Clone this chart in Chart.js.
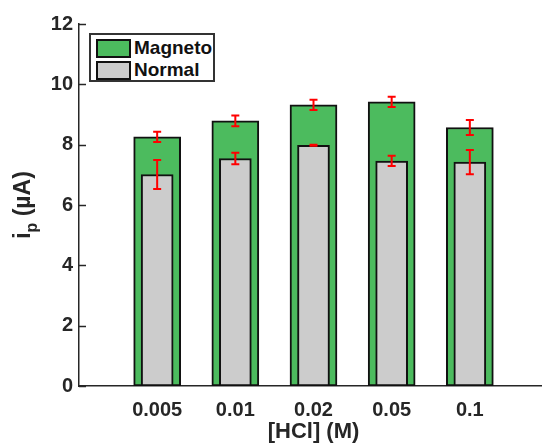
<!DOCTYPE html>
<html>
<head>
<meta charset="utf-8">
<script src="https://cdn.jsdelivr.net/npm/chart.js@4"></script>
<style>
    html, body { margin: 0; padding: 0; background: #fff; overflow: hidden; width: 542px; height: 443px; }
    #wrap { position: relative; width: 548px; height: 443px; }
    #legend {
        position: absolute; left: 89px; top: 33px; width: 122px; height: 45px;
        border: 2px solid #333; background: #fff;
        font: bold 19px "Liberation Sans", Arial, sans-serif; color: #111;
    }
    .item { position: absolute; left: 5px; height: 20px; line-height: 20px; }
    .sw { position: absolute; left: 0; top: 1px; width: 31px; height: 15px; border: 2px solid #111; }
    .lbl { position: absolute; left: 38px; top: 0; white-space: nowrap; }
</style>
</head>
<body>
<div id="wrap">
    <canvas id="chart" width="548" height="443"></canvas>
    <div id="legend"></div>
</div>
<script>
const categories = ['0.005', '0.01', '0.02', '0.05', '0.1'];
const magneto = [8.26, 8.79, 9.32, 9.42, 8.57];
const magnetoErr = [0.17, 0.18, 0.17, 0.17, 0.25];
const normal = [7.01, 7.54, 7.98, 7.46, 7.42];
const normalErr = [0.48, 0.19, 0.02, 0.17, 0.40];
const yTicks = [0, 2, 4, 6, 8, 10, 12];

const GREEN = '#4cbb5e';
const GREY = '#cccccc';
const FONT = '"Liberation Sans", Arial, sans-serif';

const toPoints = vals => vals.map((v, i) => ({ x: i + 1, y: v }));

// error bars, inward y ticks and axis titles
const extras = {
    id: 'extras',
    afterDatasetsDraw(chart) {
        const ctx = chart.ctx;
        const xs = chart.scales.x;
        const ys = chart.scales.y;
        const area = chart.chartArea;

        ctx.save();
        ctx.strokeStyle = '#262626';
        ctx.lineWidth = 1.5;
        yTicks.forEach(t => {
            const py = Math.round(ys.getPixelForValue(t)) + 0.5;
            ctx.beginPath();
            ctx.moveTo(area.left, py);
            ctx.lineTo(area.left + 7, py);
            ctx.stroke();
        });

        ctx.strokeStyle = '#ff0000';
        ctx.lineWidth = 2;
        const bars = [[magneto, magnetoErr], [normal, normalErr]];
        bars.forEach(([vals, errs]) => {
            vals.forEach((v, i) => {
                const px = xs.getPixelForValue(i + 1);
                const top = ys.getPixelForValue(v + errs[i]);
                const bot = ys.getPixelForValue(v - errs[i]);
                ctx.beginPath();
                ctx.moveTo(px, top); ctx.lineTo(px, bot);
                ctx.moveTo(px - 4, top); ctx.lineTo(px + 4, top);
                ctx.moveTo(px - 4, bot); ctx.lineTo(px + 4, bot);
                ctx.stroke();
            });
        });

        ctx.fillStyle = '#262626';
        ctx.textAlign = 'center';
        ctx.textBaseline = 'alphabetic';
        ctx.font = 'bold 22px ' + FONT;
        ctx.fillText('[HCl] (M)', (area.left + area.right) / 2, 438);

        // y title: i_p (µA)
        ctx.translate(30, (area.top + area.bottom) / 2);
        ctx.rotate(-Math.PI / 2);
        ctx.textAlign = 'left';
        const main = 'bold 23px ' + FONT;
        const sub = 'bold 16px ' + FONT;
        ctx.font = main;
        const wi = ctx.measureText('i').width;
        const wr = ctx.measureText(' (µA)').width;
        ctx.font = sub;
        const wp = ctx.measureText('p').width;
        let x0 = -(wi + wp + wr) / 2;
        ctx.font = main;
        ctx.fillText('i', x0, 0);
        ctx.font = sub;
        ctx.fillText('p', x0 + wi, 7);
        ctx.font = main;
        ctx.fillText(' (µA)', x0 + wi + wp, 0);
        ctx.restore();
    }
};

new Chart(document.getElementById('chart'), {
    type: 'bar',
    data: {
        datasets: [
            {
                label: 'Magneto',
                data: toPoints(magneto),
                backgroundColor: GREEN,
                borderColor: '#111',
                borderWidth: 2,
                borderSkipped: false,
                barThickness: 47,
                grouped: false,
                order: 2
            },
            {
                label: 'Normal',
                data: toPoints(normal),
                backgroundColor: GREY,
                borderColor: '#111',
                borderWidth: 2,
                borderSkipped: false,
                barThickness: 32,
                grouped: false,
                order: 1
            }
        ]
    },
    options: {
        responsive: false,
        animation: false,
        layout: { padding: { top: 24, right: 0, left: 0, bottom: 0 } },
        plugins: {
            legend: { display: false },
            tooltip: { enabled: false }
        },
        scales: {
            x: {
                type: 'linear',
                min: 0,
                max: 6,
                offset: false,
                afterBuildTicks: scale => {
                    scale.ticks = categories.map((c, i) => ({ value: i + 1 }));
                },
                afterFit: scale => { scale.height = 57; },
                grid: { display: false, drawTicks: false, offset: false },
                border: { display: true, color: '#262626', width: 1.5 },
                ticks: {
                    padding: 12,
                    color: '#262626',
                    font: { family: FONT, size: 20, weight: 'bold' },
                    callback: v => categories[v - 1] || '',
                    maxRotation: 0,
                    autoSkip: false
                }
            },
            y: {
                min: 0,
                max: 12,
                afterBuildTicks: scale => {
                    scale.ticks = yTicks.map(v => ({ value: v }));
                },
                afterFit: scale => { scale.width = 79; },
                grid: { display: false, drawTicks: false },
                border: { display: true, color: '#262626', width: 1.5 },
                ticks: {
                    padding: 6,
                    color: '#262626',
                    font: { family: FONT, size: 20, weight: 'bold' }
                }
            }
        }
    },
    plugins: [extras]
});

// legend
const legendItems = [['Magneto', GREEN], ['Normal', GREY]];
document.getElementById('legend').innerHTML = legendItems.map(([name, col], i) => `
    <div class="item" style="top:${3 + i * 22}px">
        <div class="sw" style="background:${col}"></div>
        <div class="lbl">${name}</div>
    </div>`).join('');
</script>
</body>
</html>
